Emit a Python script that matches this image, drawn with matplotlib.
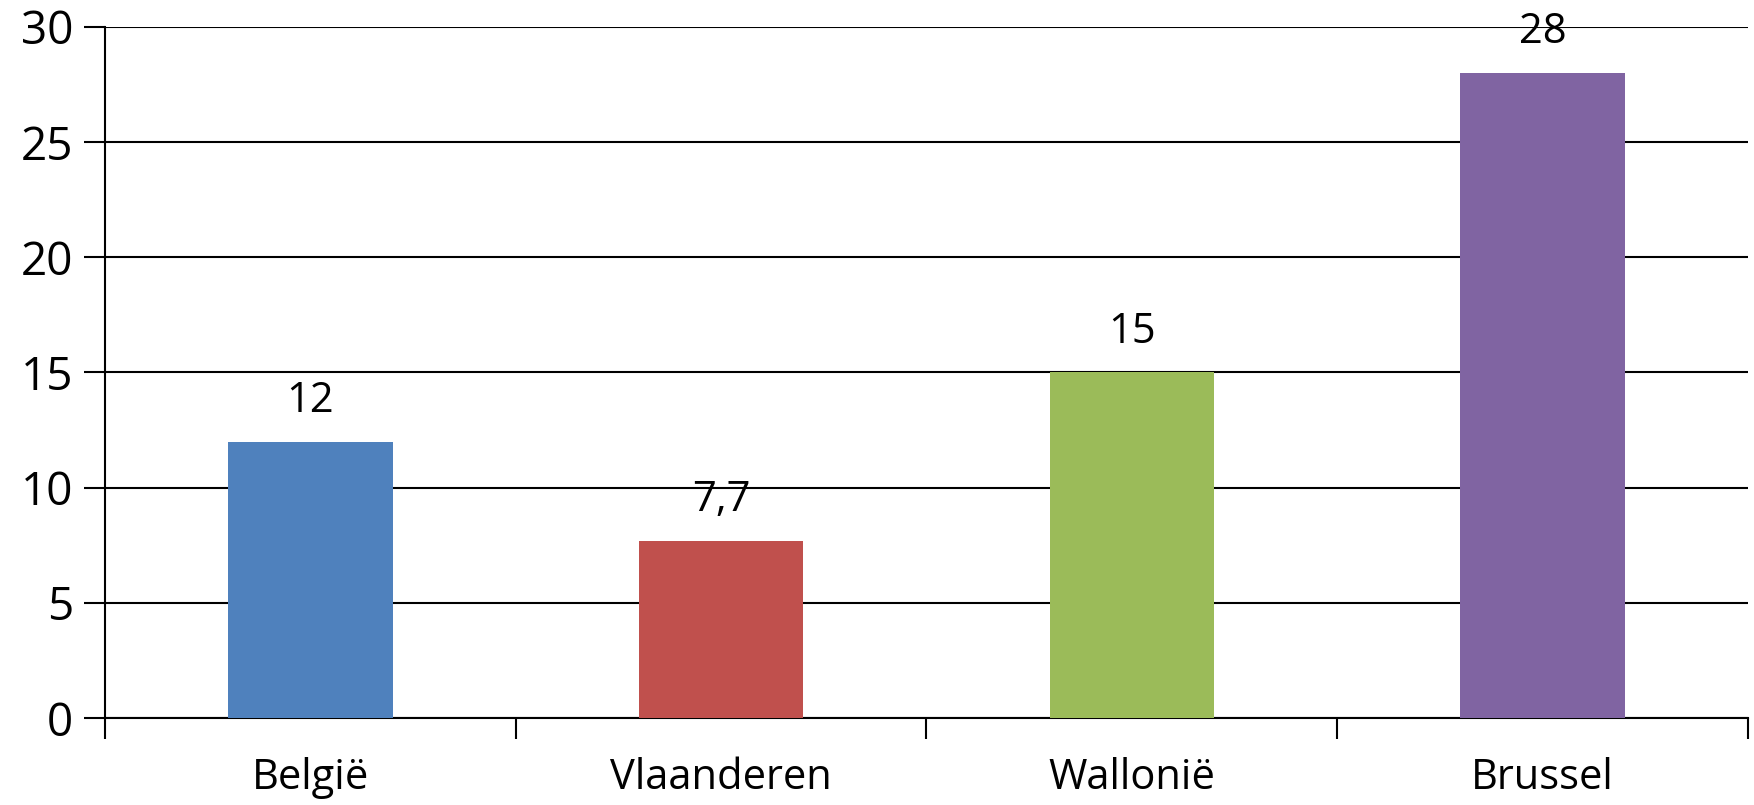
import matplotlib
matplotlib.use("Agg")
import matplotlib.pyplot as plt
import numpy as np

categories = ["België", "Vlaanderen", "Wallonië", "Brussel"]
values = [12, 7.7, 15, 28]
labels = ["12", "7,7", "15", "28"]
colors = ["#4F81BD", "#C0504D", "#9BBB59", "#8064A2"]
yticks = [0, 5, 10, 15, 20, 25, 30]

plt.rcParams['font.family'] = ['Open Sans', 'DejaVu Sans']

W, H = 1754, 805
fig = plt.figure(figsize=(W / 100, H / 100), dpi=100)
ax = fig.add_axes([105 / W, 1 - 718 / H, (1748 - 105) / W, (718 - 27) / H])

x = np.arange(len(categories))
ax.bar(x, values, width=0.40, color=colors, zorder=3)
for xi, v, lab in zip(x, values, labels):
    ax.text(xi, v + 0.85, lab, ha="center", va="bottom", fontsize=30, color="black", zorder=4)

ax.set_xlim(-0.5, len(categories) - 0.5)
ax.set_ylim(0, 30)
ax.set_yticks(yticks)
ax.set_yticklabels([str(t) for t in yticks], fontsize=33)
ax.yaxis.grid(True, color="black", linewidth=1.5, zorder=0)
ax.set_axisbelow(True)

ax.set_xticks(x)
ax.set_xticklabels(categories, fontsize=30)
ax.tick_params(axis="x", which="major", length=0, pad=28)
ax.set_xticks(np.arange(-0.5, len(categories)), minor=True)
ax.tick_params(axis="x", which="minor", length=15, width=1.5, color="black")
ax.tick_params(axis="y", length=15, width=1.5, color="black", pad=8)

for s in ["top", "right"]:
    ax.spines[s].set_visible(False)
ax.spines["left"].set_linewidth(1.5)
ax.spines["bottom"].set_linewidth(1.5)

fig.savefig("out.png", dpi=100)
